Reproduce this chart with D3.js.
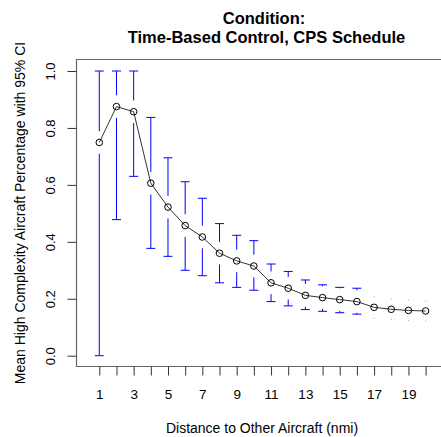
<!DOCTYPE html>
<html>
<head>
<meta charset="utf-8">
<script src="https://cdn.jsdelivr.net/npm/d3@7"></script>
<style>
  body { margin: 0; background: #fff; }
  svg { display: block; font-family: "Liberation Sans", Arial, sans-serif; }
</style>
</head>
<body>
<div id="chart"></div>
<script>
// distances (nmi)
const distances = [1, 2, 3, 4, 5, 6, 7, 8, 9, 10, 11, 12, 13, 14, 15, 16, 17, 18, 19, 20];
// mean high complexity aircraft percentage
const means = [0.749, 0.875, 0.857, 0.606, 0.522, 0.457, 0.417, 0.360, 0.333, 0.315,
               0.256, 0.237, 0.212, 0.204, 0.197, 0.190, 0.170, 0.163, 0.159, 0.157];
// 95% CI bounds
const upper = [1.000, 1.000, 1.000, 0.837, 0.695, 0.611, 0.553, 0.464, 0.423, 0.404,
               0.322, 0.296, 0.266, 0.249, 0.240, 0.237, 0.207, 0.199, 0.197, 0.192];
const lower = [0.000, 0.478, 0.630, 0.377, 0.349, 0.300, 0.281, 0.256, 0.240, 0.230,
               0.190, 0.175, 0.162, 0.156, 0.151, 0.146, 0.131, 0.128, 0.124, 0.121];
const yTicks = [0, 0.2, 0.4, 0.6, 0.8, 1.0];
const xLabelled = [1, 3, 5, 7, 9, 11, 13, 15, 17, 19];

const W = 441, H = 437;
const plotLeft = 76.5, plotTop = 59.5, plotBottom = 366.5;

const svg = d3.select("#chart").append("svg")
    .attr("width", W)
    .attr("height", H);

const x = d3.scaleLinear().domain([1, 20]).range([99.3, 425.6]);
const y = d3.scaleLinear().domain([0, 1]).range([355.7, 71]);

// frame (left, top, bottom)
svg.append("path")
    .attr("d", `M${W},${plotTop}H${plotLeft}V${plotBottom}H${W}`)
    .attr("fill", "none")
    .attr("stroke", "#666")
    .attr("stroke-width", 1.2);

// x axis
const xAxis = svg.append("g")
    .attr("transform", `translate(0,${plotBottom})`)
    .call(d3.axisBottom(x).tickValues(distances).tickSize(9).tickPadding(14)
        .tickFormat(d => xLabelled.includes(d) ? d : ""));
xAxis.select(".domain").remove();
xAxis.selectAll(".tick line").attr("stroke", "#333");
xAxis.selectAll("text").attr("font-size", 13.5).attr("fill", "#000")
    .attr("font-family", "Liberation Sans, Arial, sans-serif");

// y axis
const yAxis = svg.append("g")
    .attr("transform", `translate(${plotLeft},0)`)
    .call(d3.axisLeft(y).tickValues(yTicks).tickSize(9).tickFormat(d3.format(".1f")));
yAxis.select(".domain").remove();
yAxis.selectAll(".tick line").attr("stroke", "#333");
yAxis.selectAll("text")
    .attr("font-size", 13).attr("fill", "#000")
    .attr("font-family", "Liberation Sans, Arial, sans-serif")
    .attr("x", null).attr("dy", null)
    .attr("text-anchor", "middle")
    .attr("transform", "translate(-22,0) rotate(-90)")
    .attr("y", 0);

// error bars (gap around the point, as gplots::plotCI)
const gap = 11.3, cap = 4.5;
const bars = svg.append("g").attr("stroke", "#0000ff").attr("stroke-width", 1).attr("fill", "none");
distances.forEach((d, i) => {
  const cx = x(d), cy = y(means[i]);
  const yu = y(upper[i]), yl = y(lower[i]);
  if (yu < cy - gap) {
    bars.append("line").attr("x1", cx).attr("x2", cx).attr("y1", cy - gap).attr("y2", yu);
    bars.append("line").attr("x1", cx - cap).attr("x2", cx + cap).attr("y1", yu).attr("y2", yu);
  } else {
    bars.append("rect").attr("x", cx - 0.5).attr("y", yu - 0.5).attr("width", 1).attr("height", 1)
        .attr("fill", "#9999ff").attr("stroke", "none");
  }
  if (yl > cy + gap) {
    bars.append("line").attr("x1", cx).attr("x2", cx).attr("y1", cy + gap).attr("y2", yl);
    bars.append("line").attr("x1", cx - cap).attr("x2", cx + cap).attr("y1", yl).attr("y2", yl);
  } else {
    bars.append("rect").attr("x", cx - 0.5).attr("y", yl - 0.5).attr("width", 1).attr("height", 1)
        .attr("fill", "#9999ff").attr("stroke", "none");
  }
});

// mean line and points
const line = d3.line().x(d => x(d[0])).y(d => y(d[1]));
const pts = distances.map((d, i) => [d, means[i]]);
svg.append("path")
    .datum(pts)
    .attr("d", line)
    .attr("fill", "none")
    .attr("stroke", "#333")
    .attr("stroke-width", 1);
svg.append("g").selectAll("circle")
    .data(pts)
    .join("circle")
    .attr("cx", d => x(d[0]))
    .attr("cy", d => y(d[1]))
    .attr("r", 3.3)
    .attr("fill", "none")
    .attr("stroke", "#000")
    .attr("stroke-width", 1);

// titles
svg.append("text")
    .attr("x", 264).attr("y", 23.5)
    .attr("text-anchor", "middle")
    .attr("font-size", 16.5).attr("font-weight", "bold")
    .text("Condition:");
svg.append("text")
    .attr("x", 266.5).attr("y", 42.5)
    .attr("text-anchor", "middle")
    .attr("font-size", 16.5).attr("font-weight", "bold")
    .text("Time-Based Control, CPS Schedule");

svg.append("text")
    .attr("x", 262).attr("y", 433)
    .attr("text-anchor", "middle")
    .attr("font-size", 14)
    .text("Distance to Other Aircraft (nmi)");

svg.append("text")
    .attr("transform", `translate(25,${(plotTop + plotBottom) / 2}) rotate(-90)`)
    .attr("text-anchor", "middle")
    .attr("font-size", 14)
    .text("Mean High Complexity Aircraft Percentage with 95% CI");
</script>
</body>
</html>
